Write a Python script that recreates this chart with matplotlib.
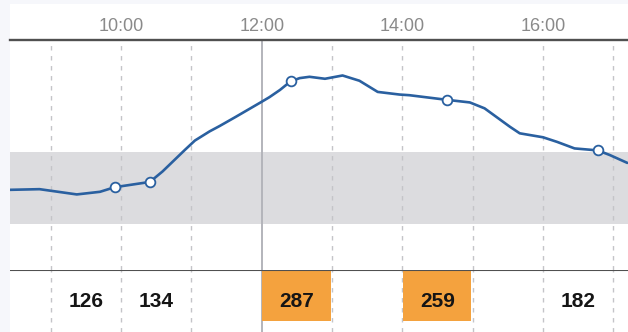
import matplotlib
matplotlib.use("Agg")
import matplotlib.pyplot as plt
from matplotlib.patches import Rectangle

# Glucose trace (hour of day, mg/dL)
trace_hours = [8.42, 8.84, 9.37, 9.70, 9.91, 10.41, 10.59, 10.91, 11.05,
               11.26, 11.40, 11.63, 12.00, 12.11, 12.26, 12.41, 12.54, 12.68,
               12.90, 13.15, 13.39, 13.65, 13.96, 14.10, 14.63, 14.96, 15.17,
               15.53, 15.67, 16.00, 16.20, 16.45, 16.78, 16.95, 17.20]
trace_values = [122, 123, 115, 119, 126, 134, 150, 183, 197,
                211, 219, 233, 256, 263, 274, 287, 292, 294,
                291, 296, 288, 271, 267, 266, 259, 255, 246,
                218, 208, 202, 195, 185, 182, 175, 163]

# Fingerstick readings
reading_hours = [9.91, 10.41, 12.41, 14.63, 16.78]
reading_values = [126, 134, 287, 259, 182]

# Hourly summary row
bin_starts = [9, 10, 12, 14, 16]
bin_values = [126, 134, 287, 259, 182]
high_limit = 250

# Target range
target_low, target_high = 70, 180

tick_hours = [10, 12, 14, 16]
tick_labels = ["10:00", "12:00", "14:00", "16:00"]
grid_hours = [9, 10, 11, 13, 14, 15, 16, 17]
now_hour = 12

x_min, x_max = 8.42, 17.21
y_min, y_max = 0, 350

W, H = 628, 332
plt.rcParams["font.family"] = ["Liberation Sans", "DejaVu Sans"]
fig = plt.figure(figsize=(W / 100, H / 100), dpi=100)
fig.patch.set_facecolor("#f6f7fb")

left = 10 / W
# white panel behind everything
bg = fig.add_axes([left, 0, 1 - left, (H - 4) / H])
bg.set_facecolor("white")
bg.set_xticks([]); bg.set_yticks([])
for s in bg.spines.values():
    s.set_visible(False)
bg.set_zorder(0)

ax = fig.add_axes([left, (H - 270) / H, 1 - left, 230 / H])
axb = fig.add_axes([left, 0, 1 - left, 62 / H])
for a in (ax, axb):
    a.set_xlim(x_min, x_max)
    a.patch.set_alpha(0)
    for s in a.spines.values():
        s.set_visible(False)
    a.set_yticks([])
ax.set_zorder(2)
axb.set_zorder(1)

grid_color = "#c4c4c8"
dash = (0, (3.2, 4.0))

# main panel
ax.set_ylim(y_min, y_max)
ax.axhspan(target_low, target_high, color="#dcdcdf", zorder=0, lw=0)
for h in grid_hours:
    ax.axvline(h, color=grid_color, lw=1, linestyle=dash, zorder=1)
ax.axvline(now_hour, color="#b3b4bb", lw=1.4, zorder=1)
ax.plot(trace_hours, trace_values, color="#2a60a0", lw=1.9,
        solid_joinstyle="round", solid_capstyle="round", zorder=3)
ax.plot(reading_hours, reading_values, linestyle="none", marker="o",
        markersize=7, markerfacecolor="white", markeredgecolor="#2a60a0",
        markeredgewidth=1.3, zorder=4)
ax.spines["top"].set_visible(True)
ax.spines["top"].set_color("#505050")
ax.spines["top"].set_linewidth(1.7)
ax.xaxis.tick_top()
ax.set_xticks(tick_hours)
ax.set_xticklabels(tick_labels)
ax.tick_params(axis="x", length=0, pad=3.5, labelsize=13, labelcolor="#8a8a8a")

# summary row
axb.set_ylim(0, 1)
axb.set_xticks([])
for h in grid_hours:
    axb.axvline(h, color=grid_color, lw=1, linestyle=dash, zorder=1)
axb.axvline(now_hour, color="#b3b4bb", lw=1.4, zorder=1)
box_bottom = (332 - 321) / 62
for h, v in zip(bin_starts, bin_values):
    if v >= high_limit:
        axb.add_patch(Rectangle((h + 0.01, box_bottom), 0.97, 1 - box_bottom,
                                facecolor="#f4a23e", edgecolor="none", zorder=2))
    axb.text(h + 0.5, (332 - 307.2) / 62, str(v), ha="center", va="baseline",
             fontsize=15, fontweight="bold", color="#151515", zorder=3)
axb.axhline(1, color="#505050", lw=1.5, zorder=4)

fig.savefig("out.png", dpi=100, facecolor=fig.get_facecolor())
